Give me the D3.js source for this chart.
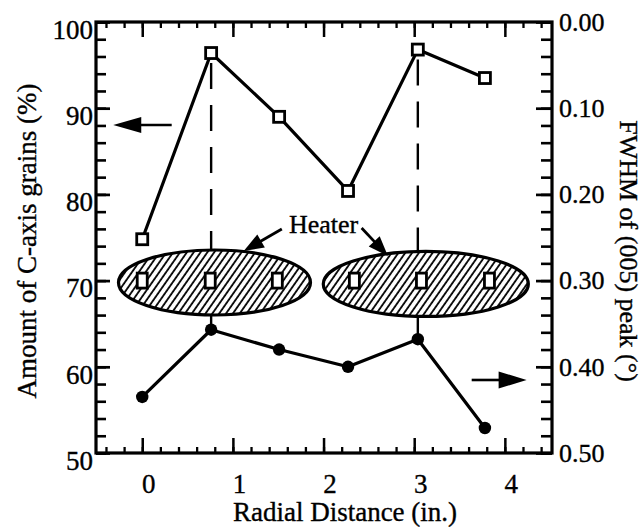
<!DOCTYPE html>
<html>
<head>
<meta charset="utf-8">
<script src="https://cdn.jsdelivr.net/npm/d3@7"></script>
<style>
  html, body { margin: 0; padding: 0; background: #fff; }
  svg { display: block; }
  svg text { font-family: "Liberation Serif", "Times New Roman", serif !important; fill: #000; stroke: #000; stroke-width: 0.35px; }
</style>
</head>
<body>
<svg id="chart" width="644" height="527"></svg>
<script>
// ---------------- data ----------------
const radialPos   = [0, 0.76, 1.51, 2.27, 3.04, 3.78];        // in.
const cAxisGrains = [74.8, 96.4, 89.0, 80.4, 96.8, 93.5];     // % (left axis)
const fwhm005     = [0.435, 0.357, 0.380, 0.400, 0.368, 0.471]; // deg (right axis)
const heaterPos   = [0, 0.75, 1.49, 2.34, 3.08, 3.83];        // sample marks on heaters
const heaterLevel = [70, 70, 70, 70, 70, 70];
const dashedAt    = [1, 4];                                     // indices with vertical dashed guide
const xTickVals   = [0, 1, 2, 3, 4];
const xTickLabels = ["0", "1", "2", "3", "4"];
const leftTickVals   = [50, 60, 70, 80, 90, 100];
const leftTickLabels = ["50", "60", "70", "80", "90", "100"];
const rightTickVals   = [0, 0.1, 0.2, 0.3, 0.4, 0.5];
const rightTickLabels = ["0.00", "0.10", "0.20", "0.30", "0.40", "0.50"];
const heaters = [ {cx: 0.797, cy: 69.78, rx: 1.059, ry: 3.77},
                  {cx: 3.128, cy: 69.61, rx: 1.131, ry: 3.77} ];

// ---------------- layout ----------------
const L = 96, R = 552, T = 22, B = 453;
const x  = d3.scaleLinear().domain([-0.51, 4.52]).range([L, R]);
const yL = d3.scaleLinear().domain([50, 100]).range([B, T]);
const yR = d3.scaleLinear().domain([0, 0.5]).range([T, B]);

const svg = d3.select("#chart");
const defs = svg.append("defs");
const pat = defs.append("pattern").attr("id", "hatch")
  .attr("patternUnits", "userSpaceOnUse").attr("width", 5.6).attr("height", 10)
  .attr("patternTransform", "rotate(35)");
pat.append("rect").attr("width", 5.6).attr("height", 10).attr("fill", "#fff");
pat.append("line").attr("x1", 1).attr("y1", 0).attr("x2", 1).attr("y2", 10)
  .attr("stroke", "#000").attr("stroke-width", 1.8);

// dashed guides
svg.append("g").selectAll("line").data(dashedAt).join("line")
  .attr("x1", i => x(radialPos[i])).attr("x2", i => x(radialPos[i]))
  .attr("y1", i => yL(cAxisGrains[i]) + 10).attr("y2", i => yR(fwhm005[i]))
  .attr("stroke", "#000").attr("stroke-width", 2.4).attr("stroke-dasharray", "26,16");

// heaters
svg.append("g").selectAll("ellipse").data(heaters).join("ellipse")
  .attr("cx", d => x(d.cx)).attr("cy", d => yL(d.cy))
  .attr("rx", d => x(d.cx + d.rx) - x(d.cx)).attr("ry", d => yL(d.cy - d.ry) - yL(d.cy))
  .attr("fill", "url(#hatch)").attr("stroke", "#000").attr("stroke-width", 3.2);

svg.append("g").selectAll("rect").data(heaterPos).join("rect")
  .attr("x", d => x(d) - 5).attr("y", (d, i) => yL(heaterLevel[i]) - 7.5)
  .attr("width", 10).attr("height", 15)
  .attr("fill", "#fff").attr("stroke", "#000").attr("stroke-width", 2.8);

// arrows
function arrow(x1, y1, x2, y2, len, hw, sw) {
  const dx = x2 - x1, dy = y2 - y1, d = Math.hypot(dx, dy);
  const ux = dx / d, uy = dy / d, px = -uy, py = ux;
  const bx = x2 - ux * len, by = y2 - uy * len;
  svg.append("line").attr("x1", x1).attr("y1", y1).attr("x2", bx + ux * 2).attr("y2", by + uy * 2)
    .attr("stroke", "#000").attr("stroke-width", sw);
  svg.append("path")
    .attr("d", `M${x2},${y2}L${bx + px * hw},${by + py * hw}L${bx - px * hw},${by - py * hw}Z`)
    .attr("fill", "#000");
}
arrow(x(0.325), yL(88.05), x(-0.32), yL(88.05), 28, 8, 2.6);
arrow(x(3.634), yR(0.4153), x(4.24), yR(0.4153), 28, 8.5, 2.6);
arrow(x(1.54), yL(75.99), x(1.12), yL(73.43), 20, 7.5, 2.8);
arrow(x(2.42), yL(76.1), x(2.71), yL(72.85), 20, 7.5, 2.8);

svg.append("text").attr("x", x(2.0)).attr("y", yL(75.52))
  .attr("text-anchor", "middle").attr("font-size", 26).text("Heater");

// series: C-axis grains (open squares)
svg.append("path").datum(radialPos)
  .attr("d", d3.line().x(d => x(d)).y((d, i) => yL(cAxisGrains[i])))
  .attr("fill", "none").attr("stroke", "#000").attr("stroke-width", 3.2).attr("stroke-linejoin", "round");
svg.append("g").selectAll("rect").data(radialPos).join("rect")
  .attr("x", d => x(d) - 5.5).attr("y", (d, i) => yL(cAxisGrains[i]) - 5.5)
  .attr("width", 11).attr("height", 11)
  .attr("fill", "#fff").attr("stroke", "#000").attr("stroke-width", 2.8);

// series: FWHM (filled circles)
svg.append("path").datum(radialPos)
  .attr("d", d3.line().x(d => x(d)).y((d, i) => yR(fwhm005[i])))
  .attr("fill", "none").attr("stroke", "#000").attr("stroke-width", 3.2).attr("stroke-linejoin", "round");
svg.append("g").selectAll("circle").data(radialPos).join("circle")
  .attr("cx", d => x(d)).attr("cy", (d, i) => yR(fwhm005[i])).attr("r", 6.2)
  .attr("fill", "#000");

// ---------------- axes ----------------
const xMinor = d3.range(-2, 23).map(i => i / 5);
const lMinor = d3.range(25, 51).map(i => i * 2);
const rMinor = d3.range(0, 26).map(i => i / 50);

function styleAxis(g, sw) {
  g.attr("font-family", null);
  g.select(".domain").remove();
  g.selectAll(".tick line").attr("stroke", "#000").attr("stroke-width", sw);
}
// minor ticks
svg.append("g").attr("transform", `translate(0,${B})`)
  .call(d3.axisBottom(x).tickValues(xMinor).tickSize(-6).tickFormat("")).call(g => styleAxis(g, 2.3));
svg.append("g").attr("transform", `translate(0,${T})`)
  .call(d3.axisTop(x).tickValues(xMinor).tickSize(-6).tickFormat("")).call(g => styleAxis(g, 2.3));
svg.append("g").attr("transform", `translate(${L},0)`)
  .call(d3.axisLeft(yL).tickValues(lMinor).tickSize(-10).tickFormat("")).call(g => styleAxis(g, 2.6));
svg.append("g").attr("transform", `translate(${R},0)`)
  .call(d3.axisRight(yR).tickValues(rMinor).tickSize(-11).tickFormat("")).call(g => styleAxis(g, 2.6));

// major ticks with labels
const gx = svg.append("g").attr("transform", `translate(0,${B})`)
  .call(d3.axisBottom(x).tickValues(xTickVals).tickSize(-15).tickFormat((d, i) => xTickLabels[i]));
styleAxis(gx, 2.5);
gx.selectAll("text").attr("font-size", 27).attr("dx", 6).attr("y", 40).attr("dy", 0);

svg.append("g").attr("transform", `translate(0,${T})`)
  .call(d3.axisTop(x).tickValues(xTickVals).tickSize(-15).tickFormat("")).call(g => styleAxis(g, 2.5));

const gl = svg.append("g").attr("transform", `translate(${L},0)`)
  .call(d3.axisLeft(yL).tickValues(leftTickVals).tickSize(-14).tickFormat((d, i) => leftTickLabels[i]));
styleAxis(gl, 2.7);
gl.selectAll("text").attr("font-size", 27).attr("x", -3).attr("dy", "0.6em");

const gr = svg.append("g").attr("transform", `translate(${R},0)`)
  .call(d3.axisRight(yR).tickValues(rightTickVals).tickSize(-16).tickFormat((d, i) => rightTickLabels[i]));
styleAxis(gr, 2.7);
gr.selectAll("text").attr("font-size", 26).attr("x", 7).attr("dy", "0.32em");

// frame lines
svg.append("rect").attr("x", L).attr("y", T).attr("width", R - L).attr("height", B - T)
  .attr("fill", "none").attr("stroke", "#000").attr("stroke-width", 3.2);

// titles
svg.append("text").attr("x", 345).attr("y", 521).attr("text-anchor", "middle")
  .attr("font-size", 27).text("Radial Distance (in.)");
svg.append("text").attr("transform", "translate(36,241) rotate(-90)").attr("text-anchor", "middle")
  .attr("font-size", 27).text("Amount of C-axis grains (%)");
svg.append("text").attr("transform", "translate(620,251) rotate(90)").attr("text-anchor", "middle")
  .attr("font-size", 26).text("FWHM of (005) peak (°)");
</script>
</body>
</html>
